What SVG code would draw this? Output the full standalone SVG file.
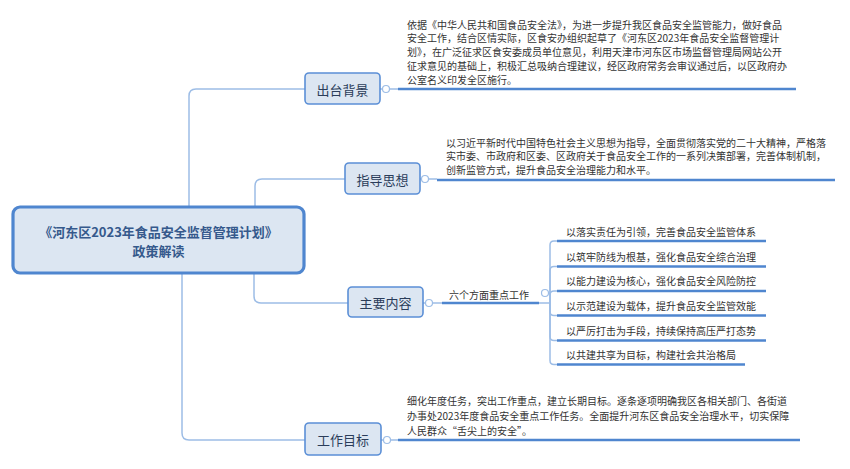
<svg xmlns="http://www.w3.org/2000/svg" width="850" height="469" viewBox="0 0 850 469">
<style>
.bg{fill:#ffffff}
.conn{fill:none;stroke:#9dbde6;stroke-width:1.5}
.thick{fill:none;stroke:#4f86cf;stroke-width:2.5}
.dot{fill:#ffffff;stroke:#9dbde6;stroke-width:1.2}
.box{fill:#dce6f2;stroke:#5b8fd6;stroke-width:1.6}
.root{fill:#dce6f2;stroke:#4f86cf;stroke-width:3.2}
.rt{font-family:"Noto Sans CJK SC","Noto Sans",sans-serif;font-size:13px;font-weight:bold;fill:#35598c;text-anchor:middle;dominant-baseline:central}
.bt{font-family:"Noto Sans CJK SC","Noto Sans",sans-serif;font-size:13px;fill:#2b3d5a;text-anchor:middle;dominant-baseline:central}
.dt{font-family:"Noto Sans CJK SC","Noto Sans",sans-serif;font-size:10px;fill:#333333;dominant-baseline:central}
</style>
<rect class="bg" x="0" y="0" width="850" height="469"/>
<g id="connectors">
<path class="conn" d="M189 207 V96 Q189 89 196 89 H305"/>
<path class="conn" d="M255 207 V186 Q255 179 262 179 H345"/>
<path class="conn" d="M254 273 V296 Q254 303 261 303 H348"/>
<path class="conn" d="M182 273 V433 Q182 440 189 440 H305"/>
<path class="conn" d="M380 89 H398"/>
<path class="conn" d="M420 179 H437"/>
<path class="conn" d="M423 303 H442"/>
<path class="conn" d="M381 440 H398"/>
<path class="conn" d="M539 303 H550"/>
<path class="conn" d="M550 303 V245 Q550 241 554 241 H557"/>
<path class="conn" d="M550 303 V270.5 Q550 266.5 554 266.5 H557"/>
<path class="conn" d="M550 303 V295 Q550 291 554 291 H557"/>
<path class="conn" d="M550 303 V311.5 Q550 315.5 554 315.5 H557"/>
<path class="conn" d="M550 303 V336.5 Q550 340.5 554 340.5 H557"/>
<path class="conn" d="M550 303 V360.5 Q550 364.5 554 364.5 H557"/>
<circle class="dot" cx="386" cy="89" r="3.5"/>
<circle class="dot" cx="425" cy="179" r="3.5"/>
<circle class="dot" cx="429" cy="303" r="3.5"/>
<circle class="dot" cx="387" cy="440" r="3.5"/>
<circle class="dot" cx="545" cy="293" r="3.5"/>
</g>
<g id="root">
<rect class="root" x="13" y="207" width="291" height="66" rx="7"/>
<text class="rt" x="158.5" y="231">《河东区2023年食品安全监督管理计划》</text>
<text class="rt" x="158.5" y="250">政策解读</text>
</g>
<g id="n-beijing">
<rect class="box" x="305" y="73" width="75" height="31" rx="4"/>
<text class="bt" x="342.5" y="89">出台背景</text>
</g>
<g id="d-beijing">
<line class="thick" x1="398" y1="89" x2="796" y2="89"/>
<text class="dt" x="407" y="24">依据《中华人民共和国食品安全法》，为进一步提升我区食品安全监管能力，做好食品</text>
<text class="dt" x="407" y="37.8">安全工作，结合区情实际，区食安办组织起草了《河东区2023年食品安全监督管理计</text>
<text class="dt" x="407" y="51.6">划》，在广泛征求区食安委成员单位意见，利用天津市河东区市场监督管理局网站公开</text>
<text class="dt" x="407" y="65.4">征求意见的基础上，积极汇总吸纳合理建议，经区政府常务会审议通过后，以区政府办</text>
<text class="dt" x="407" y="79.2">公室名义印发全区施行。</text>
</g>
<g id="n-sixiang">
<rect class="box" x="345" y="163" width="75" height="31" rx="4"/>
<text class="bt" x="382.5" y="179">指导思想</text>
</g>
<g id="d-sixiang">
<line class="thick" x1="437" y1="180" x2="835" y2="180"/>
<text class="dt" x="446" y="142">以习近平新时代中国特色社会主义思想为指导，全面贯彻落实党的二十大精神，严格落</text>
<text class="dt" x="446" y="155.6">实市委、市政府和区委、区政府关于食品安全工作的一系列决策部署，完善体制机制，</text>
<text class="dt" x="446" y="169.2">创新监管方式，提升食品安全治理能力和水平。</text>
</g>
<g id="n-neirong">
<rect class="box" x="348" y="287" width="75" height="30" rx="4"/>
<text class="bt" x="385.5" y="302">主要内容</text>
</g>
<g id="n-liuge">
<line class="thick" x1="442" y1="303" x2="539" y2="303"/>
<text class="dt" x="489" y="294" text-anchor="middle">六个方面重点工作</text>
</g>
<g id="c1">
<line class="thick" x1="557" y1="241" x2="766" y2="241"/>
<text class="dt" x="566" y="231">以落实责任为引领，完善食品安全监管体系</text>
</g>
<g id="c2">
<line class="thick" x1="557" y1="266.5" x2="766" y2="266.5"/>
<text class="dt" x="566" y="256">以筑牢防线为根基，强化食品安全综合治理</text>
</g>
<g id="c3">
<line class="thick" x1="557" y1="291" x2="766" y2="291"/>
<text class="dt" x="566" y="280.7">以能力建设为核心，强化食品安全风险防控</text>
</g>
<g id="c4">
<line class="thick" x1="557" y1="315.5" x2="766" y2="315.5"/>
<text class="dt" x="566" y="305">以示范建设为载体，提升食品安全监管效能</text>
</g>
<g id="c5">
<line class="thick" x1="557" y1="340.5" x2="766" y2="340.5"/>
<text class="dt" x="566" y="330">以严厉打击为手段，持续保持高压严打态势</text>
</g>
<g id="c6">
<line class="thick" x1="557" y1="364.5" x2="745" y2="364.5"/>
<text class="dt" x="566" y="354.3">以共建共享为目标，构建社会共治格局</text>
</g>
<g id="n-mubiao">
<rect class="box" x="305" y="423" width="76" height="32" rx="4"/>
<text class="bt" x="343" y="439">工作目标</text>
</g>
<g id="d-mubiao">
<line class="thick" x1="398" y1="440" x2="800" y2="440"/>
<text class="dt" x="407" y="400.7">细化年度任务，突出工作重点，建立长期目标。逐条逐项明确我区各相关部门、各街道</text>
<text class="dt" x="407" y="415.5">办事处2023年度食品安全重点工作任务。全面提升河东区食品安全治理水平，切实保障</text>
<text class="dt" x="407" y="430">人民群众“舌尖上的安全”。</text>
</g>
</svg>
